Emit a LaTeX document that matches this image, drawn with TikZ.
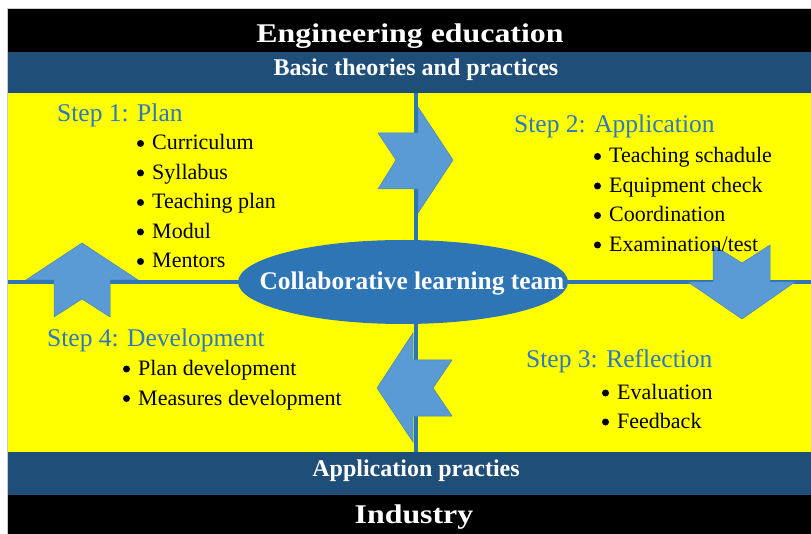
\documentclass[tikz,border=0pt]{standalone}
\usepackage{fontspec}
\setmainfont{Liberation Serif}
\usetikzlibrary{shapes.geometric}
\definecolor{bandblue}{HTML}{1F4E79}
\definecolor{lineblue}{HTML}{2E75B6}
\definecolor{arrowblue}{HTML}{5B9BD5}
\definecolor{arrowedge}{HTML}{4A83B8}
\definecolor{stepblue}{HTML}{2E78BC}
\definecolor{panelyellow}{HTML}{FFFF00}
\tikzset{
  heading/.style={anchor=base west, inner sep=0pt, text=stepblue, font=\fontsize{25.5}{30}\selectfont},
  item/.style={anchor=base west, inner sep=0pt, font=\fontsize{22}{26}\selectfont},
  bandtext/.style={anchor=base, inner sep=0pt, text=white, font=\bfseries\fontsize{24}{28}\selectfont},
  titletext/.style={anchor=base, inner sep=0pt, text=white, font=\bfseries\fontsize{27}{32}\selectfont},
  flow/.style={fill=arrowblue, draw=arrowedge, line width=0.5pt, line join=miter},
  divider/.style={draw=lineblue, line width=4.5pt},
}
\newcommand{\itemnode}[3]{%
  \node[item] (#1) at (#2) {#3};
  \fill ([xshift=-11.5pt,yshift=6.5pt]#1.base west) circle (3.5pt);}
\begin{document}
\begin{tikzpicture}[x=1pt,y=-1pt]
\useasboundingbox (0,0) rectangle (811,534);
\fill[white] (0,0) rectangle (811,534);
\draw[black!20, line width=1pt] (7.5,534) -- (7.5,8.5) -- (811,8.5);
% bands
\fill[black] (8,9) rectangle (811,52);
\fill[bandblue] (8,52) rectangle (811,93);
\fill[panelyellow] (8,93) rectangle (811,452);
\fill[bandblue] (8,452) rectangle (811,495);
\fill[black] (8,495) rectangle (811,534);
\node[titletext] (title) at (410,43) {\scalebox{1.18}[1]{Engineering education}};
\node[bandtext] (basic) at (416,76) {Basic theories and practices};
\node[bandtext] (apppr) at (416,476) {Application practies};
\node[titletext] (industry) at (414,523) {\scalebox{1.18}[1]{Industry}};
% dividers
\coordinate (vtop) at (416,93);
\coordinate (vbot) at (416,452);
\coordinate (hleft) at (8,282);
\coordinate (hright) at (811,282);
\draw[divider] (vtop) -- (vbot);
\draw[divider] (hleft) -- (hright);
% centre ellipse
\node[ellipse, fill=lineblue, minimum width=330pt, minimum height=84pt, inner sep=0pt] (team) at (403,282) {};
\node[anchor=base, inner sep=0pt, text=white, font=\bfseries\fontsize{25.4}{30}\selectfont] (teamtext) at (412,290) {Collaborative learning team};
% arrows
\path[flow] (378,133) -- (418,133) -- (418,107) -- (453,160) -- (418,213) -- (418,189) -- (378,189) -- (396,160) -- cycle;
\path[flow] (713,245) -- (742,263) -- (770,245) -- (770,282) -- (795,282) -- (742,319) -- (688,282) -- (713,282) -- cycle;
\path[flow] (452,360) -- (433,388) -- (452,416) -- (413,416) -- (413,442) -- (377,388) -- (413,333) -- (413,360) -- cycle;
\path[flow] (54,317) -- (82,299) -- (110,317) -- (110,280) -- (138,280) -- (82,243) -- (26,280) -- (54,280) -- cycle;
% step 1
\node[heading] (s1) at (57,122) {Step 1: Plan};
\itemnode{s1a}{152,150}{Curriculum}
\itemnode{s1b}{152,179.5}{Syllabus}
\itemnode{s1c}{152,209}{Teaching plan}
\itemnode{s1d}{152,238.5}{Modul}
\itemnode{s1e}{152,268}{Mentors}
% step 2
\node[heading] (s2) at (514,133) {Step 2: Application};
\itemnode{s2a}{609,163}{Teaching schadule}
\itemnode{s2b}{609,192.5}{Equipment check}
\itemnode{s2c}{609,222}{Coordination}
\itemnode{s2d}{609,251.5}{Examination/test}
% step 4
\node[heading] (s4) at (47,347) {Step 4: Development};
\itemnode{s4a}{138,375.5}{Plan development}
\itemnode{s4b}{138,405}{Measures development}
% step 3
\node[heading] (s3) at (526,368) {Step 3: Reflection};
\itemnode{s3a}{617,399.5}{Evaluation}
\itemnode{s3b}{617,428.5}{Feedback}
\end{tikzpicture}
\end{document}
